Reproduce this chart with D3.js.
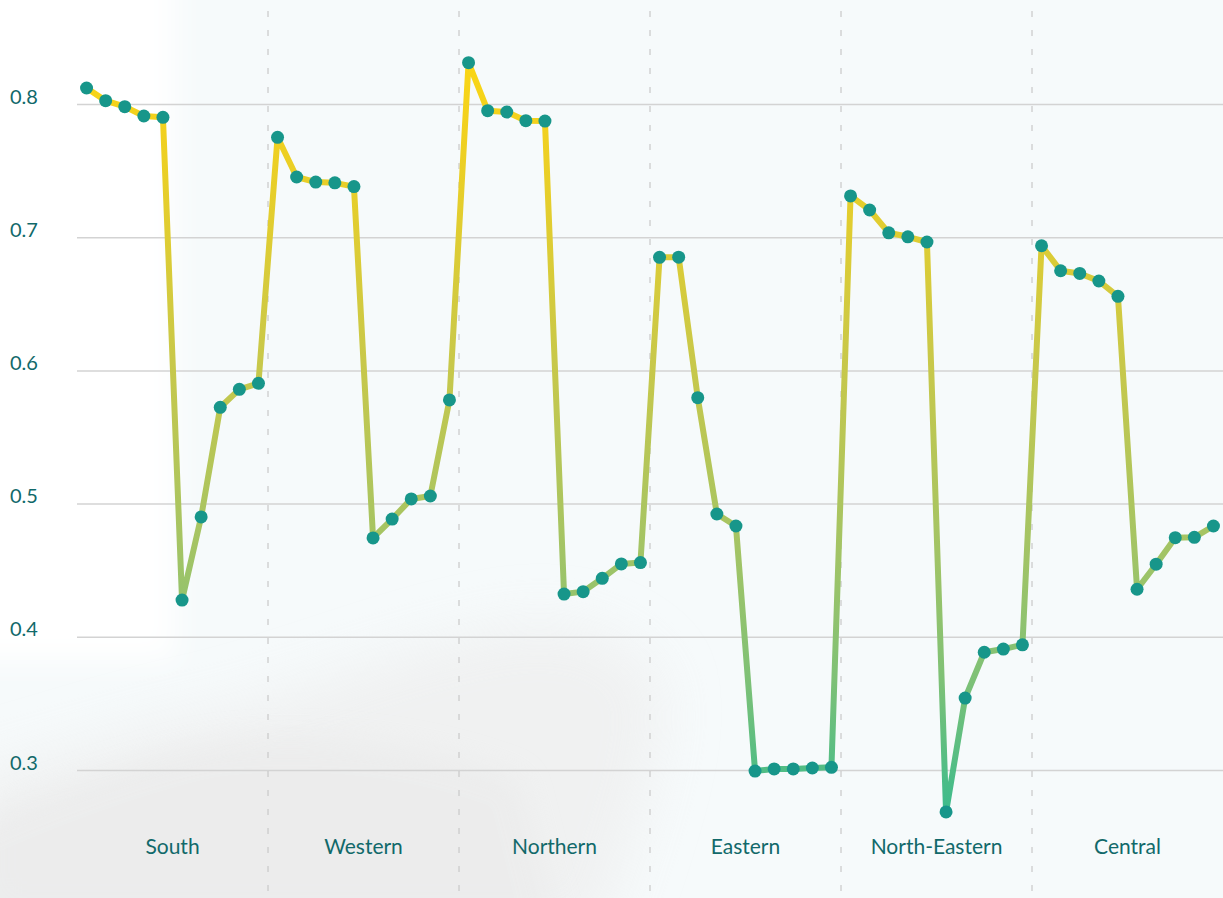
<!DOCTYPE html>
<html>
<head>
<meta charset="utf-8">
<script src="https://cdn.jsdelivr.net/npm/d3@7"></script>
<style>
  html, body { margin: 0; padding: 0; background: #f6fafb; }
  svg { display: block; }
  text { font-family: Lato, "Open Sans", sans-serif; fill: #11696a; }
</style>
</head>
<body>
<svg id="chart" width="1223" height="898"></svg>
<script>
// Regions, each with ten consecutive readings
const regions = ["South", "Western", "Northern", "Eastern", "North-Eastern", "Central"];

const southValues        = [0.812, 0.8025, 0.798, 0.791, 0.790, 0.4276, 0.490, 0.5723, 0.5858, 0.5903];
const westernValues      = [0.775, 0.7452, 0.7414, 0.7408, 0.738, 0.4742, 0.4884, 0.5035, 0.5057, 0.5778];
const northernValues     = [0.831, 0.795, 0.794, 0.7875, 0.7872, 0.4321, 0.4339, 0.4439, 0.4547, 0.4557];
const easternValues      = [0.6849, 0.685, 0.5795, 0.4922, 0.4832, 0.2992, 0.3008, 0.3008, 0.3015, 0.302];
const northEasternValues = [0.731, 0.7204, 0.7033, 0.7003, 0.6964, 0.2685, 0.354, 0.3884, 0.3908, 0.394];
const centralValues      = [0.6936, 0.6748, 0.6728, 0.6671, 0.6556, 0.4357, 0.4545, 0.4744, 0.4747, 0.4832];

const yTicks = [0.3, 0.4, 0.5, 0.6, 0.7, 0.8];
const yTickLabels = ["0.3", "0.4", "0.5", "0.6", "0.7", "0.8"];

const seriesByRegion = [southValues, westernValues, northernValues, easternValues, northEasternValues, centralValues];
const data = seriesByRegion.flatMap((vals, r) =>
  vals.map((v, i) => ({ region: regions[r], idx: r * vals.length + i, value: v })));

const W = 1223, H = 898;
const svg = d3.select("#chart");
const defs = svg.append("defs");

// Soft backdrop
defs.append("filter").attr("id", "soft").attr("x", "-50%").attr("y", "-50%").attr("width", "200%").attr("height", "200%")
  .append("feGaussianBlur").attr("stdDeviation", 14);
defs.append("filter").attr("id", "softer").attr("x", "-50%").attr("y", "-50%").attr("width", "200%").attr("height", "200%")
  .append("feGaussianBlur").attr("stdDeviation", 28);

svg.append("rect").attr("width", W).attr("height", H).attr("fill", "#f6fafb");
svg.append("rect").attr("x", -40).attr("y", -40).attr("width", 215).attr("height", 700)
  .attr("fill", "#ffffff").attr("filter", "url(#soft)");
svg.append("path")
  .attr("d", "M-40,940 L-40,780 C40,760 120,730 220,710 C330,680 420,640 520,625 C580,618 630,640 660,680 C670,740 640,820 600,940 Z")
  .attr("fill", "#eeeeee").attr("opacity", 0.75).attr("filter", "url(#softer)");
svg.append("path")
  .attr("d", "M-40,940 L-40,830 C30,800 100,770 200,745 C300,730 420,740 520,780 L560,940 Z")
  .attr("fill", "#eaeaea").attr("opacity", 0.6).attr("filter", "url(#soft)");

// Scales
const x = d3.scalePoint()
  .domain(data.map(d => d.idx))
  .range([77, 1223])
  .padding(0.5);
const step = x.step();

const y = d3.scaleLinear().domain([0.3, 0.8]).range([770, 104]);

// Horizontal gridlines with tick labels
const yAxis = d3.axisLeft(y).tickValues(yTicks)
  .tickFormat((d, i) => yTickLabels[i]).tickSize(0);
const gy = svg.append("g").call(yAxis);
gy.select(".domain").remove();
gy.selectAll(".tick line").remove();
gy.selectAll(".tick").append("line")
  .attr("x1", 77).attr("x2", W)
  .attr("stroke", "#d3d3d3").attr("stroke-width", 1.5);
gy.selectAll(".tick text")
  .attr("x", 10).attr("dy", -1)
  .attr("text-anchor", "start")
  .style("font-size", "20px")
  .style("font-family", "Lato, 'Open Sans', sans-serif")
  .attr("fill", "#11696a");

// Region dividers
const firstIdx = regions.map((r, k) => k * 10);
svg.append("g").selectAll("line")
  .data(firstIdx.slice(1))
  .join("line")
  .attr("x1", d => x(d) - step / 2).attr("x2", d => x(d) - step / 2)
  .attr("y1", 11).attr("y2", H)
  .attr("stroke", "#c9c9c9").attr("stroke-width", 1.2)
  .attr("stroke-dasharray", "6,13");

// Region labels
const xAxis = d3.axisBottom(x)
  .tickValues(firstIdx.map(d => d + 4))
  .tickFormat((d, i) => regions[i]).tickSize(0);
const gx = svg.append("g").attr("transform", "translate(0,839)").call(xAxis);
gx.select(".domain").remove();
gx.selectAll(".tick").attr("transform", d => `translate(${x(d) + step / 2},0)`);
gx.selectAll(".tick text")
  .attr("y", 0).attr("dy", "0.72em")
  .style("font-size", "21px")
  .style("font-family", "Lato, 'Open Sans', sans-serif")
  .attr("fill", "#11696a");

// Vertical colour ramp for the line
const grad = defs.append("linearGradient").attr("id", "lineGrad")
  .attr("gradientUnits", "userSpaceOnUse")
  .attr("x1", 0).attr("x2", 0)
  .attr("y1", y(d3.max(data, d => d.value))).attr("y2", y(d3.min(data, d => d.value)));
[[0, "#fad614"], [0.1, "#f0d020"], [0.4, "#c8c84a"], [0.65, "#a3c465"], [0.82, "#7fc176"], [1, "#3cbb8c"]]
  .forEach(([o, c]) => grad.append("stop").attr("offset", o).attr("stop-color", c));

const line = d3.line().x(d => x(d.idx)).y(d => y(d.value));
svg.append("path")
  .datum(data)
  .attr("d", line)
  .attr("fill", "none")
  .attr("stroke", "url(#lineGrad)")
  .attr("stroke-width", 6)
  .attr("stroke-linejoin", "round");

svg.append("g").selectAll("circle")
  .data(data)
  .join("circle")
  .attr("cx", d => x(d.idx))
  .attr("cy", d => y(d.value))
  .attr("r", 6.5)
  .attr("fill", "#17968a");
</script>
</body>
</html>
